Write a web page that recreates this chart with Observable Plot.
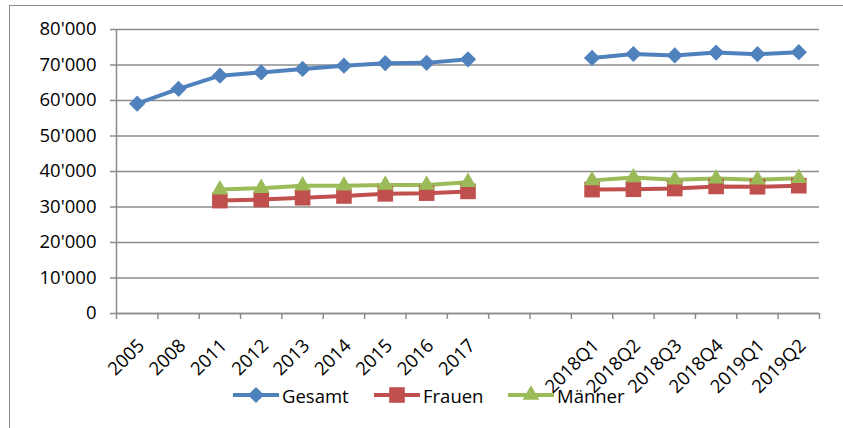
<!DOCTYPE html>
<html>
<head>
<meta charset="utf-8">
<script src="https://cdn.jsdelivr.net/npm/d3@7"></script>
<script src="https://cdn.jsdelivr.net/npm/@observablehq/plot@0.6"></script>
<style>
  html, body { margin: 0; padding: 0; background: #fff; }
  #wrap { position: relative; width: 843px; height: 428px; overflow: hidden; font-family: "Open Sans", sans-serif; }
  #frame { position: absolute; left: 9px; top: 5px; width: 900px; height: 500px; border-left: 1.5px solid #8a8a8a; border-top: 1.5px solid #8a8a8a; box-sizing: border-box; }
  #chart { position: absolute; left: 0; top: 0; }
  .leg { position: absolute; top: 383px; display: flex; align-items: center; font-size: 18.5px; color: #000; height: 24px; }
  .leg svg { display: block; }
  .leg span { margin-left: 3px; }
</style>
</head>
<body>
<div id="wrap">
  <div id="frame"></div>
  <div id="chart"></div>
  <div id="legend"></div>
</div>
<script>
const categories = ["2005","2008","2011","2012","2013","2014","2015","2016","2017","","","2018Q1","2018Q2","2018Q3","2018Q4","2019Q1","2019Q2"];
const gesamt  = [59100,63300,67000,67900,68900,69800,70500,70600,71600,null,null,72000,73100,72700,73500,73050,73600];
const frauen  = [null,null,31800,32100,32600,33100,33700,33900,34400,null,null,34900,35000,35200,35800,35700,36000];
const maenner = [null,null,34900,35300,36000,36000,36200,36200,37000,null,null,37500,38300,37700,38000,37700,38100];
const yTicks = [0,10000,20000,30000,40000,50000,60000,70000,80000];
const seriesNames = ["Gesamt","Frauen","Männer"];
const seriesColors = ["#4F81BD","#C0504D","#9BBB59"];
const seriesSymbols = ["diamond2","square","triangle"];
const seriesR = [7.3, 8.8, 6.2];
const seriesValues = [gesamt, frauen, maenner];

const fmt = d3.formatLocale({decimal: ".", thousands: "'", grouping: [3], currency: ["", ""]}).format(",");

const rows = seriesValues.map((vals, s) => categories.map((c, i) => ({s, c, x: i + 0.5, v: vals[i]})));
const centers = categories.map((c, i) => i + 0.5);
const bounds = d3.range(categories.length + 1);

const grey = "#8c8c8c";
const FS = 18.5;
const lineMarks = rows.map((r, s) => Plot.line(r, {x: "x", y: "v", stroke: seriesColors[s], strokeWidth: 4, curve: "linear"}));
const dotMarks = rows.map((r, s) => Plot.dot(r.filter(d => d.v != null), {x: "x", y: "v", fill: seriesColors[s], stroke: "none", symbol: seriesSymbols[s], r: seriesR[s]}));

const chart = Plot.plot({
  width: 843, height: 428,
  marginLeft: 116, marginRight: 24, marginTop: 29, marginBottom: 115,
  x: {type: "linear", domain: [0, categories.length], label: null},
  y: {domain: [0, 80000], label: null},
  style: {fontFamily: "'Open Sans', sans-serif", fontSize: FS + "px", color: "#000", background: "transparent", overflow: "visible"},
  marks: [
    Plot.gridY(yTicks, {stroke: grey, strokeOpacity: 1, strokeWidth: 1.5}),
    Plot.ruleX([0], {stroke: grey, strokeWidth: 1.5}),
    Plot.ruleY([0], {stroke: grey, strokeWidth: 1.5}),
    Plot.axisY(yTicks, {tickFormat: fmt, tickSize: 6, tickPadding: 14, stroke: grey, strokeWidth: 1.5, fill: "#000", fontSize: FS, label: null}),
    Plot.axisX(bounds, {tickFormat: () => "", tickSize: 6, stroke: grey, strokeWidth: 1.5, label: null}),
    Plot.axisX(centers, {tickFormat: d => categories[Math.floor(d)], tickSize: 0, tickPadding: 29, dx: 4, tickRotate: -45, fill: "#000", fontSize: FS, label: null}),
    ...lineMarks,
    ...dotMarks
  ]
});
document.getElementById("chart").appendChild(chart);

// legend
const legLefts = [233, 374, 508];
const legend = document.getElementById("legend");
seriesNames.forEach((name, s) => {
  const item = document.createElement("div");
  item.className = "leg";
  item.style.left = legLefts[s] + "px";
  const svg = d3.create("svg").attr("width", 46).attr("height", 24);
  svg.append("line").attr("x1", 0).attr("x2", 46).attr("y1", 12).attr("y2", 12)
    .attr("stroke", seriesColors[s]).attr("stroke-width", 4);
  const symMap = {diamond2: d3.symbolDiamond2, square: d3.symbolSquare, triangle: d3.symbolTriangle};
  svg.append("path").attr("transform", "translate(23,12)")
    .attr("d", d3.symbol(symMap[seriesSymbols[s]], Math.PI * seriesR[s] * seriesR[s])())
    .attr("fill", seriesColors[s]);
  item.appendChild(svg.node());
  const t = document.createElement("span");
  t.textContent = name;
  item.appendChild(t);
  legend.appendChild(item);
});
</script>
</body>
</html>
